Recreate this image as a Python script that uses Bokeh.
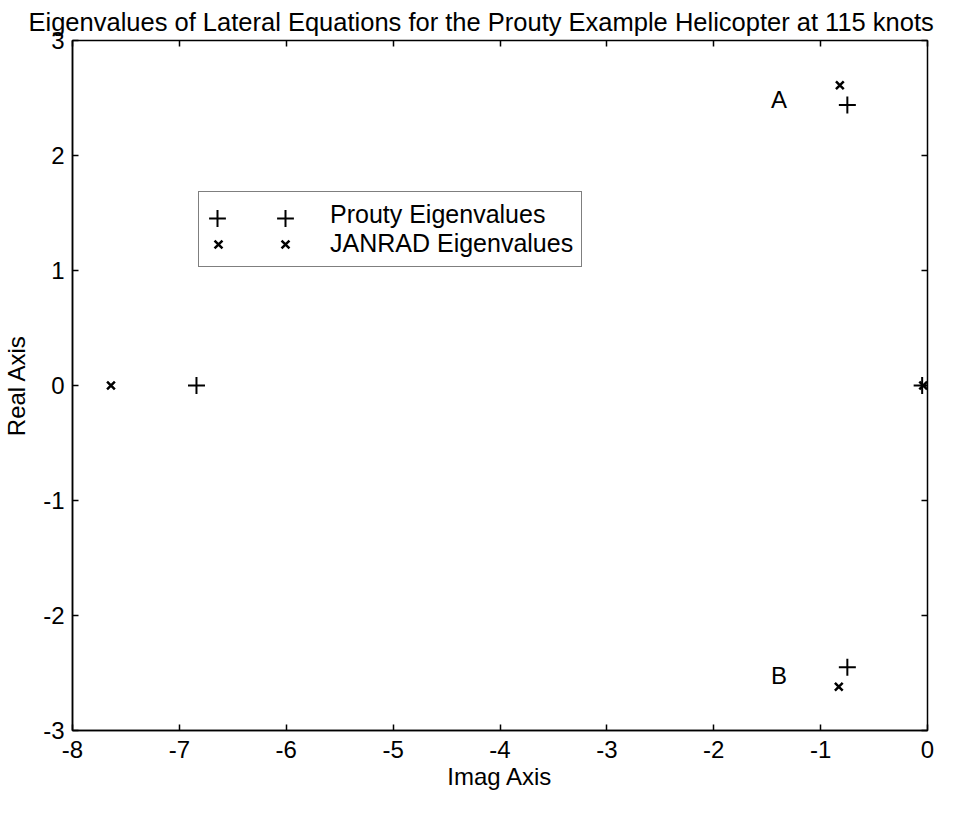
from bokeh.plotting import figure
from bokeh.models import Range1d, LinearAxis, FixedTicker, Legend, LegendItem, ColumnDataSource
from bokeh.core.properties import value
from bokeh.embed import file_html
from bokeh.resources import INLINE

# ---------------- data ----------------
title_text = "Eigenvalues of Lateral Equations for the Prouty Example Helicopter at 115 knots"
x_label = "Imag Axis"
y_label = "Real Axis"

x_ticks = [-8, -7, -6, -5, -4, -3, -2, -1, 0]
x_tick_labels = ["-8", "-7", "-6", "-5", "-4", "-3", "-2", "-1", "0"]
y_ticks = [-3, -2, -1, 0, 1, 2, 3]
y_tick_labels = ["-3", "-2", "-1", "0", "1", "2", "3"]

series_names = ["Prouty Eigenvalues", "JANRAD Eigenvalues"]
prouty_x = [-6.84, -0.75, -0.75, -0.05]
prouty_y = [0.0, 2.44, -2.45, 0.0]
janrad_x = [-7.64, -0.82, -0.83, -0.04]
janrad_y = [0.0, 2.61, -2.62, 0.0]

mode_labels = ["A", "B"]
mode_label_x = [-1.39, -1.39]
mode_label_y = [2.49, -2.52]

# ---------------- style ----------------
FONT = "Liberation Sans"
FS = "24px"

p = figure(width=954, height=798,
           x_range=Range1d(-8, 0), y_range=Range1d(-3, 3),
           output_backend="svg", toolbar_location=None,
           min_border_left=69, min_border_right=27,
           min_border_top=40, min_border_bottom=68,
           title=title_text)

p.title.text_font = FONT
p.title.text_font_size = "25.5px"
p.title.text_font_style = "normal"
p.title.text_color = "black"
p.title.align = "left"
p.title.offset = -44
p.title.standoff = 10

p.grid.visible = False
p.outline_line_color = "black"
p.outline_line_width = 1.5
p.background_fill_color = "white"
p.border_fill_color = "white"

xa = p.xaxis[0]
ya = p.yaxis[0]
xa.ticker = FixedTicker(ticks=x_ticks)
ya.ticker = FixedTicker(ticks=y_ticks)
xa.major_label_overrides = {t: s for t, s in zip(x_ticks, x_tick_labels)}
ya.major_label_overrides = {t: s for t, s in zip(y_ticks, y_tick_labels)}
xa.axis_label = x_label
ya.axis_label = y_label
for ax in (xa, ya):
    ax.major_tick_in = 6
    ax.major_tick_out = 0
    ax.minor_tick_line_color = None
    ax.axis_line_color = "black"
    ax.axis_line_width = 1.5
    ax.major_tick_line_color = "black"
    ax.major_tick_line_width = 1.5
    ax.major_label_text_font = FONT
    ax.major_label_text_font_size = FS
    ax.major_label_text_color = "black"
    ax.axis_label_text_font = FONT
    ax.axis_label_text_font_size = FS
    ax.axis_label_text_font_style = "normal"
    ax.axis_label_text_color = "black"
xa.major_label_standoff = 10
xa.axis_label_standoff = 2
ya.major_label_standoff = 8
ya.axis_label_standoff = 10

# inward ticks on the top and right edges (box on), no labels drawn
top_axis = LinearAxis(ticker=FixedTicker(ticks=x_ticks),
                      major_label_text_font_size="1px", major_label_text_color=None,
                      major_tick_in=6, major_tick_out=0, major_tick_line_width=1.5,
                      major_tick_line_color="black",
                      minor_tick_line_color=None, axis_line_color=None, major_label_standoff=0)
right_axis = LinearAxis(ticker=FixedTicker(ticks=y_ticks),
                        major_label_text_font_size="1px", major_label_text_color=None,
                        major_tick_in=6, major_tick_out=0, major_tick_line_width=1.5,
                        major_tick_line_color="black",
                        minor_tick_line_color=None, axis_line_color=None, major_label_standoff=0)
p.add_layout(top_axis, "above")
p.add_layout(right_axis, "right")

# ---------------- marks ----------------
r_prouty = p.scatter(prouty_x, prouty_y, marker="cross", size=17,
                     line_color="black", line_width=2)
r_janrad = p.scatter(janrad_x, janrad_y, marker="x", size=11,
                     line_color="black", line_width=2.5)

p.text(x=mode_label_x, y=mode_label_y, text=mode_labels,
       text_font=value(FONT), text_font_size=FS,
       text_align="center", text_baseline="middle", text_color="black")

# ---------------- legend ----------------
dummy = p.scatter(x="x", y="y", source=ColumnDataSource(data=dict(x=[], y=[])),
                  marker="cross", size=1, line_alpha=0, fill_alpha=0)

leg_box = Legend(items=[LegendItem(label=series_names[0], renderers=[dummy]),
                        LegendItem(label=series_names[1], renderers=[dummy])],
                 location=(126, 463), orientation="vertical", margin=0,
                 padding=8, spacing=-5, glyph_width=113, glyph_height=20,
                 label_standoff=10, label_height=20,
                 label_text_font=FONT, label_text_font_size="25px",
                 label_text_color="black",
                 border_line_color="black", border_line_width=1.5,
                 background_fill_color="white", background_fill_alpha=1)
p.add_layout(leg_box, "center")

leg_plus = Legend(items=[LegendItem(label=value(" "), renderers=[r_prouty]),
                         LegendItem(label=value(" "), renderers=[r_prouty])],
                  location=(124, 491), orientation="horizontal", margin=0,
                  padding=0, spacing=26, glyph_width=42, glyph_height=42,
                  label_standoff=0, label_width=0, label_height=0,
                  label_text_font_size="1px", label_text_color=None,
                  border_line_alpha=0, background_fill_alpha=0)
p.add_layout(leg_plus, "center")

leg_x = Legend(items=[LegendItem(label=value(" "), renderers=[r_janrad]),
                      LegendItem(label=value(" "), renderers=[r_janrad])],
               location=(132, 472), orientation="horizontal", margin=0,
               padding=0, spacing=39, glyph_width=28, glyph_height=28,
               label_standoff=0, label_width=0, label_height=0,
               label_text_font_size="1px", label_text_color=None,
               border_line_alpha=0, background_fill_alpha=0)
p.add_layout(leg_x, "center")

open("out.html", "w").write(file_html(p, INLINE))
